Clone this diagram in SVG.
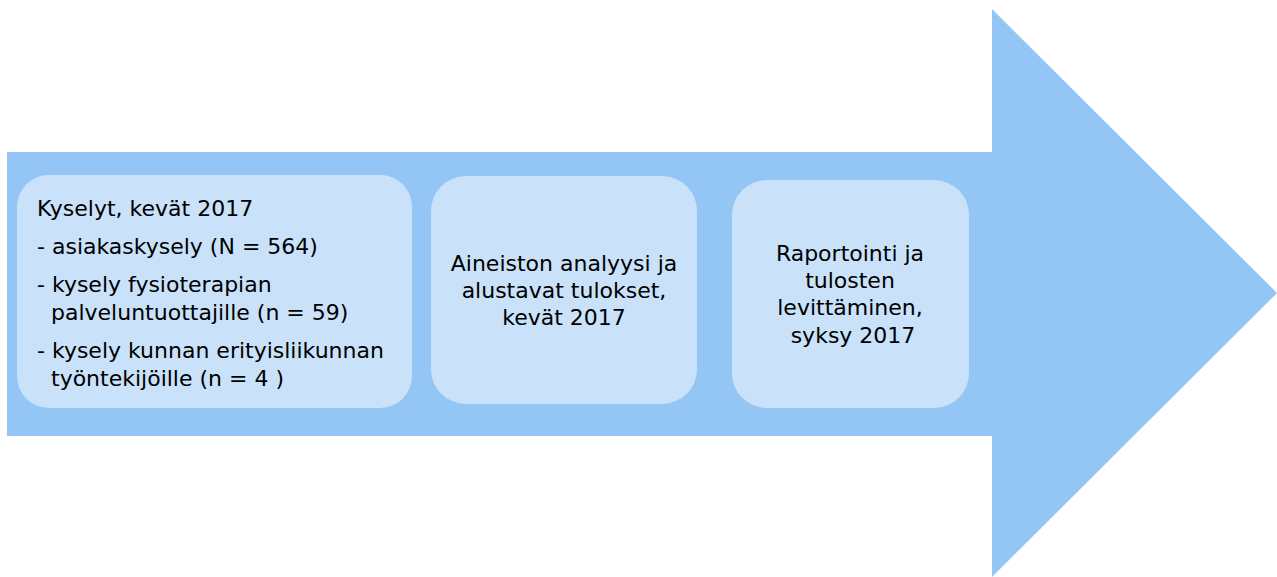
<svg xmlns="http://www.w3.org/2000/svg" width="1277" height="577" viewBox="0 0 1277 577">
<style>
.box{fill:#C9E2FA;}
.t{font-family:"DejaVu Sans","Liberation Sans",sans-serif;font-size:22px;fill:#000;}
.c{text-anchor:middle;}
</style>
<rect width="1277" height="577" fill="#fff"/>
<g id="arrow">
<polygon points="7,152 992,152 992,9 1277,293 992,577 992,436 7,436" fill="#94C6F5"/>
</g>
<g id="node1">
<rect class="box" x="17" y="175" width="395" height="233" rx="32"/>
<text class="t" x="37" y="216">Kyselyt, kevät 2017</text>
<text class="t" x="37" y="254">- asiakaskysely (N = 564)</text>
<text class="t" x="37" y="292">- kysely fysioterapian</text>
<text class="t" x="51" y="320">palveluntuottajille (n = 59)</text>
<text class="t" x="37" y="358">- kysely kunnan erityisliikunnan</text>
<text class="t" x="51" y="386">työntekijöille (n = 4 )</text>
</g>
<g id="node2">
<rect class="box" x="431" y="176" width="266" height="228" rx="35"/>
<text class="t c" x="564" y="271">Aineiston analyysi ja</text>
<text class="t c" x="564" y="298">alustavat tulokset,</text>
<text class="t c" x="564" y="325">kevät 2017</text>
</g>
<g id="node3">
<rect class="box" x="732" y="180" width="237" height="228" rx="35"/>
<text class="t c" x="850" y="261">Raportointi ja</text>
<text class="t c" x="850" y="288">tulosten</text>
<text class="t c" x="850" y="315">levittäminen,</text>
<text class="t c" x="853" y="343">syksy 2017</text>
</g>
<g id="connectors"></g>
</svg>
